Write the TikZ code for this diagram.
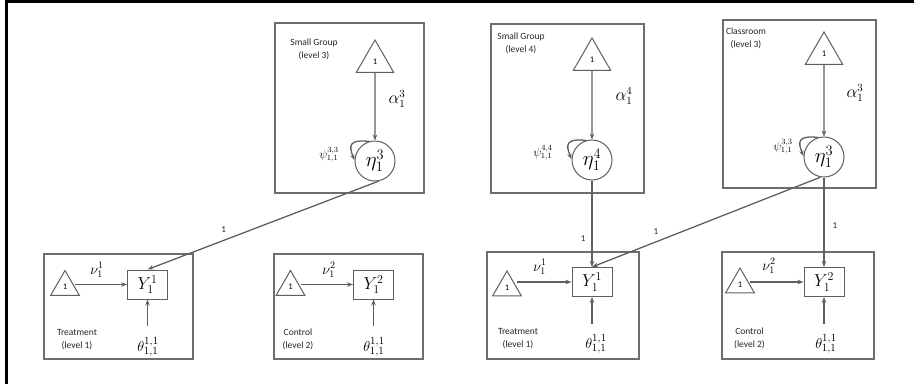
\documentclass[tikz,border=0pt]{standalone}
\usepackage{fontspec}
\setmainfont{Carlito}
\usetikzlibrary{arrows.meta,shapes.geometric,calc}
\definecolor{lc}{RGB}{95,95,95}
\definecolor{bc}{RGB}{110,110,110}
\begin{document}
\begin{tikzpicture}[x=1pt,y=-1pt,
  gbox/.style={draw=bc,line width=1.1pt,inner sep=0pt},
  tri/.style={draw=lc,line width=1pt,regular polygon,regular polygon sides=3,inner sep=0pt,font=\fontsize{8.5}{9}\selectfont},
  bigtri/.style={tri,minimum size=43pt},
  smalltri/.style={tri,minimum size=33pt},
  latent/.style={circle,draw=lc,line width=1pt,minimum size=40pt,inner sep=0pt,font=\fontsize{20}{20}\selectfont},
  obs/.style={rectangle,draw=lc,line width=1pt,minimum width=40pt,minimum height=29pt,inner sep=0pt,font=\fontsize{18}{18}\selectfont},
  arr/.style={draw=lc,line width=1.3pt,-{Stealth[length=6pt,width=4.5pt]}},
  lbl/.style={font=\fontsize{9}{10}\selectfont,inner sep=1pt,text=black!85},
  glbl/.style={font=\fontsize{9.5}{13}\selectfont,align=center,inner sep=0pt,text=black!85},
  alab/.style={inner sep=0pt,font=\fontsize{16}{16}\selectfont},
  plab/.style={inner sep=0pt,font=\fontsize{12}{12}\selectfont},
  nlab/.style={inner sep=0pt,font=\fontsize{14}{14}\selectfont},
  tlab/.style={inner sep=0pt,font=\fontsize{15}{15}\selectfont}]
\useasboundingbox (0,0) rectangle (914,384);
% frame lines (top and left)
\draw[line width=3pt] (6.5,384) -- (6.5,1.5) -- (914,1.5);

% ---------- left half ----------
\node[gbox,minimum width=149pt,minimum height=170pt] (G1) at (349.5,108) {};
\node[glbl] (G1t) at (314,49) {Small Group\\(level 3)};
\node[bigtri] (T1) at (375,61.5) {1};
\node[latent] (E1) at (375,161) {$\eta_1^3$};
\node[alab] (A1) at (397,99) {$\alpha_1^3$};
\node[plab] (P1) at (329,155) {$\psi_{1,1}^{3,3}$};

\node[gbox,minimum width=149pt,minimum height=105pt] (B1) at (118.5,306.5) {};
\node[smalltri] (T2) at (65,287) {1};
\node[obs] (Y1) at (147.5,284.5) {$Y_1^1$};
\node[nlab] (N1) at (97,270) {$\nu_1^1$};
\node[tlab] (H1) at (148,347) {$\theta_{1,1}^{1,1}$};
\coordinate (H1a) at (147.5,326);
\node[glbl] (B1t) at (77,339.5) {Treatment\\(level 1)};

\node[gbox,minimum width=149pt,minimum height=105pt] (B2) at (348.5,306.5) {};
\node[smalltri] (T3) at (290.5,287) {1};
\node[obs] (Y2) at (373.5,284.5) {$Y_1^2$};
\node[nlab] (N2) at (329,270) {$\nu_1^2$};
\node[tlab] (H2) at (374,347) {$\theta_{1,1}^{1,1}$};
\coordinate (H2a) at (373.5,326);
\node[glbl] (B2t) at (298,339.5) {Control\\(level 2)};

% ---------- right half ----------
\node[gbox,minimum width=153pt,minimum height=169pt] (G2) at (567.5,108.5) {};
\node[glbl] (G2t) at (521,43.5) {Small Group\\(level 4)};
\node[bigtri] (T4) at (592,59.5) {1};
\node[latent] (E2) at (592,160) {$\eta_1^4$};
\node[alab] (A2) at (624,96) {$\alpha_1^4$};
\node[plab] (P2) at (543,153) {$\psi_{1,1}^{4,4}$};

\node[gbox,minimum width=153pt,minimum height=168pt] (G3) at (799.5,104) {};
\node[glbl] (G3t) at (746,38.5) {Classroom\\(level 3)};
\node[bigtri] (T5) at (824,53.5) {1};
\node[latent] (E3) at (824,157) {$\eta_1^3$};
\node[alab] (A3) at (855,93) {$\alpha_1^3$};
\node[plab] (P3) at (783,147) {$\psi_{1,1}^{3,3}$};

\node[gbox,minimum width=152pt,minimum height=107pt] (B3) at (563,305.5) {};
\node[smalltri] (T6) at (507,287.5) {1};
\node[obs] (Y3) at (592,282) {$Y_1^1$};
\node[nlab] (N3) at (540,267) {$\nu_1^1$};
\node[tlab] (H3) at (596,344) {$\theta_{1,1}^{1,1}$};
\coordinate (H3a) at (592,324);
\node[glbl] (B3t) at (518,339) {Treatment\\(level 1)};

\node[gbox,minimum width=152pt,minimum height=107pt] (B4) at (798,305.5) {};
\node[smalltri] (T7) at (740,284.5) {1};
\node[obs] (Y4) at (824,282) {$Y_1^2$};
\node[nlab] (N4) at (769,266) {$\nu_1^2$};
\node[tlab] (H4) at (826,344) {$\theta_{1,1}^{1,1}$};
\coordinate (H4a) at (824,324);
\node[glbl] (B4t) at (749.5,338.5) {Control\\(level 2)};

% ---------- connectors ----------
\draw[arr] (T1.south) -- (E1.north);
\draw[arr] (E1.107) .. controls +(-20,-2) and +(-6,-15) .. (E1.178);
\draw[arr] (E1.-80) -- node[lbl,pos=0.67,above=6pt] {1} (Y1.north);
\draw[arr] (T2.east |- Y1.west) -- (Y1.west);
\draw[arr] (H1a) -- (Y1.south);
\draw[arr] (T3.east |- Y2.west) -- (Y2.west);
\draw[arr] (H2a) -- (Y2.south);

\draw[arr] (T4.south) -- (E2.north);
\draw[arr] (E2.107) .. controls +(-20,-2) and +(-6,-15) .. (E2.178);
\draw[arr] (E2.south) -- node[lbl,pos=0.67,left=5pt] {1} (Y3.north);
\draw[arr] (T5.south) -- (E3.north);
\draw[arr] (E3.107) .. controls +(-20,-2) and +(-6,-15) .. (E3.178);
\draw[arr] (E3.-100) -- node[lbl,pos=0.72,above=6pt] {1} (Y3.north);
\draw[arr] (E3.south) -- node[lbl,pos=0.54,right=7pt] {1} (Y4.north);
\draw[arr] (T6.east |- Y3.west) -- (Y3.west);
\draw[arr] (H3a) -- (Y3.south);
\draw[arr] (T7.east |- Y4.west) -- (Y4.west);
\draw[arr] (H4a) -- (Y4.south);
\end{tikzpicture}
\end{document}
